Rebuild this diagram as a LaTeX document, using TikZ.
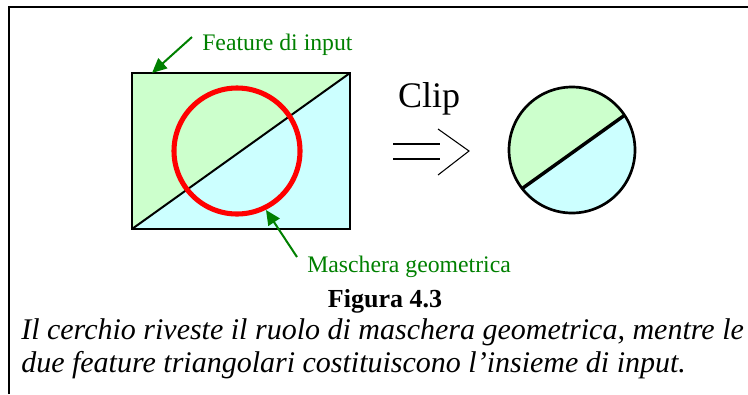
\documentclass[tikz,border=0pt]{standalone}
\usepackage{fontspec}
\setmainfont{Liberation Serif}
\usetikzlibrary{arrows.meta, positioning, calc}
\definecolor{featgreen}{HTML}{CCFFCC}
\definecolor{featcyan}{HTML}{CCFFFF}
\definecolor{labgreen}{HTML}{008000}

\begin{document}
\begin{tikzpicture}[x=0.75pt, y=-0.75pt,
    lab/.style={font=\fontsize{17.8}{20}\selectfont, text=labgreen,
                inner sep=0pt},
    ptr/.style={-{Triangle[length=11pt, width=10pt]}, line width=1.5pt,
                labgreen},
    edge/.style={line width=1.5pt, black},
    capt/.style={font=\fontsize{22.5}{26}\selectfont\itshape, inner sep=0pt,
                 anchor=base west}
  ]
    \useasboundingbox (0,0) rectangle (748,394);
    % frame
    \draw[line width=1.6pt] (9,394) -- (9,7) -- (748,7);

    % input features
    \coordinate (tl) at (132,73);
    \coordinate (tr) at (350,73);
    \coordinate (br) at (350,229);
    \coordinate (bl) at (132,229);
    \fill[featgreen] (bl) -- (tl) -- (tr) -- cycle;
    \fill[featcyan] (bl) -- (br) -- (tr) -- cycle;
    \draw[edge] (tl) rectangle (br);
    \draw[edge] (bl) -- (tr);

    % geometric mask
    \draw[red, line width=3.8pt] (237,151) circle[radius=63];

    % labels
    \node[lab, anchor=base west] (feat) at (202,50) {Feature di input};
    \coordinate (feattail) at (192,37);
    \coordinate (feattip) at (152,73);
    \draw[ptr] (feattail) -- (feattip);
    \node[lab, anchor=base west] (mask) at (307,272) {Maschera geometrica};
    \coordinate (masktail) at (297,257);
    \coordinate (masktip) at (266,210);
    \draw[ptr] (masktail) -- (masktip);

    % clip operation
    \node[font=\fontsize{27}{30}\selectfont, inner sep=0pt] (clip) at (429,99)
      {Clip};
    \coordinate (imp) at (469,151);
    \draw[line width=0.8pt] (393,144) -- (440,144);
    \draw[line width=0.8pt] (393,159) -- (440,159);
    \draw[line width=0.8pt] (438,129) -- (imp) -- (438,175);

    % result
    \begin{scope}[shift={(335,-1)}]
      \clip (237,151) circle[radius=63];
      \fill[featgreen] (132,229) -- (132,73) -- (350,73) -- cycle;
      \fill[featcyan] (132,229) -- (350,229) -- (350,73) -- cycle;
      \draw[line width=2.6pt] (132,229) -- (350,73);
    \end{scope}
    \draw[line width=2pt] (572,150) circle[radius=63];

    % caption
    \node[font=\fontsize{19.5}{22}\selectfont\bfseries, inner sep=0pt,
          anchor=base] (fig) at (385,307) {Figura 4.3};
    \node[capt] (cap1) at (21,339)
      {Il cerchio riveste il ruolo di maschera geometrica, mentre le};
    \node[capt] (cap2) at (21,372)
      {due feature triangolari costituiscono l’insieme di input.};
\end{tikzpicture}
\end{document}
